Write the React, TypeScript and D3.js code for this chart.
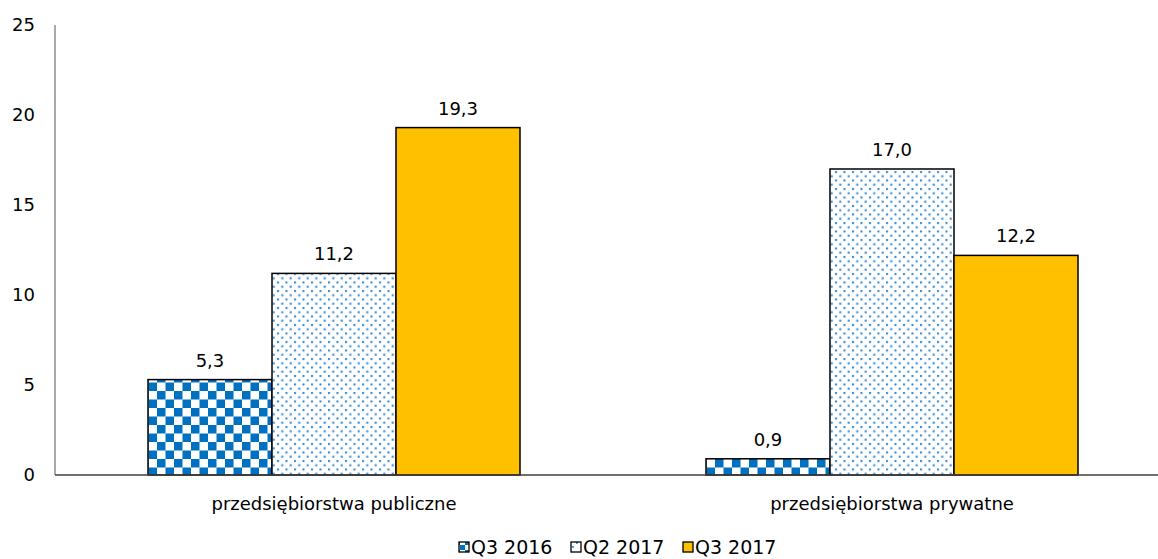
import React from "react";
import * as d3 from "d3";

const categories = ["przedsiębiorstwa publiczne", "przedsiębiorstwa prywatne"];
const seriesNames = ["Q3 2016", "Q2 2017", "Q3 2017"];
const q3_2016 = [5.3, 0.9];
const q2_2017 = [11.2, 17.0];
const q3_2017 = [19.3, 12.2];
const yTicks = [0, 5, 10, 15, 20, 25];

const W = 1158;
const H = 559;
const margin = { left: 55, right: -13, top: 25, bottom: 84 };
const FONT = "'DejaVu Sans', sans-serif";

export default function App() {
  const seriesValues = [q3_2016, q2_2017, q3_2017];
  const x0 = d3
    .scaleBand<string>()
    .domain(categories)
    .range([margin.left, W - margin.right])
    .paddingInner(0)
    .paddingOuter(0);
  const x1 = d3
    .scaleBand<string>()
    .domain(seriesNames)
    .range([0, x0.bandwidth()])
    .paddingOuter(0.75)
    .paddingInner(0);
  const y = d3
    .scaleLinear()
    .domain([0, 25])
    .range([H - margin.bottom, margin.top]);
  const fills = ["url(#checker)", "url(#dots)", "#FFC000"];
  const fmt = (v: number) => v.toFixed(1).replace(".", ",");
  const legendPitch = 112;
  const legendStart = 459;

  return (
    <svg
      width={W}
      height={H}
      style={{ position: "absolute", left: 0, top: 0, background: "#fff" }}
      fontFamily={FONT}
    >
      <defs>
        <pattern id="checker" patternUnits="userSpaceOnUse" width={17} height={17}>
          <rect width={17} height={17} fill="#fff" />
          <rect x={0} y={0} width={8.5} height={8.5} fill="#0070C0" />
          <rect x={8.5} y={8.5} width={8.5} height={8.5} fill="#0070C0" />
        </pattern>
        <pattern id="dots" patternUnits="userSpaceOnUse" width={8.5} height={8.5}>
          <rect width={8.5} height={8.5} fill="#fff" />
          <rect x={1} y={1} width={2} height={2} fill="#2a82cc" />
          <rect x={5.25} y={5.25} width={2} height={2} fill="#2a82cc" />
        </pattern>
        <pattern id="checkerSmall" patternUnits="userSpaceOnUse" width={10} height={10}>
          <rect width={10} height={10} fill="#fff" />
          <rect x={5} y={0} width={5} height={5} fill="#0070C0" />
          <rect x={0} y={5} width={5} height={5} fill="#0070C0" />
        </pattern>
        <pattern id="dotsSmall" patternUnits="userSpaceOnUse" width={10} height={10}>
          <rect width={10} height={10} fill="#fff" />
          <rect x={2} y={6} width={1.8} height={1.8} fill="#2a82cc" />
          <rect x={6} y={2} width={1.8} height={1.8} fill="#2a82cc" />
        </pattern>
      </defs>

      {/* y axis */}
      <line
        x1={margin.left}
        x2={margin.left}
        y1={y(25)}
        y2={y(0)}
        stroke="#8c8c8c"
        strokeWidth={1.5}
      />
      {yTicks.map((t) => (
        <text
          key={t}
          x={35}
          y={y(t)}
          dy="0.36em"
          textAnchor="end"
          fontSize={18}
          fill="#000"
        >
          {t}
        </text>
      ))}

      {/* bars */}
      {categories.map((c, ci) => (
        <g key={c} transform={`translate(${x0(c)},0)`}>
          {seriesNames.map((s, si) => {
            const v = seriesValues[si][ci];
            const bx = x1(s)!;
            const bw = x1.bandwidth();
            return (
              <g key={s}>
                <rect
                  x={bx}
                  y={y(v)}
                  width={bw}
                  height={y(0) - y(v)}
                  fill={fills[si]}
                  stroke="#000"
                  strokeWidth={1.5}
                />
                <text
                  x={bx + bw / 2}
                  y={y(v) - 13}
                  textAnchor="middle"
                  fontSize={18}
                  fill="#000"
                >
                  {fmt(v)}
                </text>
              </g>
            );
          })}
        </g>
      ))}

      {/* x axis */}
      <line
        x1={margin.left}
        x2={W}
        y1={y(0)}
        y2={y(0)}
        stroke="#404040"
        strokeWidth={1.5}
      />
      {categories.map((c) => (
        <text
          key={c}
          x={x0(c)! + x0.bandwidth() / 2}
          y={504}
          dy="0.36em"
          textAnchor="middle"
          fontSize={18}
          fill="#000"
        >
          {c}
        </text>
      ))}

      {/* legend */}
      {seriesNames.map((s, i) => {
        const lx = legendStart + i * legendPitch;
        const lf = ["url(#checkerSmall)", "url(#dotsSmall)", "#FFC000"][i];
        return (
          <g key={s}>
            <rect
              x={lx}
              y={542}
              width={10}
              height={10}
              fill={lf}
              stroke="#000"
              strokeWidth={1.3}
            />
            <text x={lx + 12} y={547} dy="0.36em" fontSize={19} fill="#000">
              {s}
            </text>
          </g>
        );
      })}
    </svg>
  );
}
